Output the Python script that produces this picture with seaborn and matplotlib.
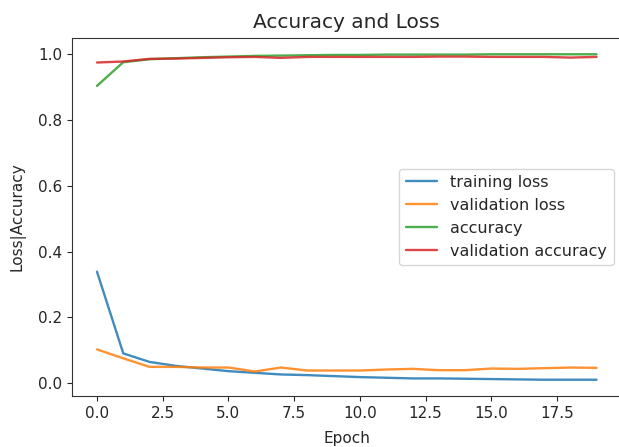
import numpy as np
import pandas as pd
import matplotlib
matplotlib.use("Agg")
import matplotlib.pyplot as plt
import seaborn as sns

# values
epochs = list(range(20))
training_loss = [0.339, 0.091, 0.065, 0.053, 0.045, 0.037, 0.032, 0.027, 0.025, 0.022,
                 0.019, 0.017, 0.015, 0.015, 0.014, 0.013, 0.012, 0.011, 0.011, 0.011]
validation_loss = [0.103, 0.076, 0.050, 0.050, 0.048, 0.048, 0.036, 0.048, 0.039, 0.039,
                   0.039, 0.042, 0.044, 0.040, 0.040, 0.045, 0.044, 0.046, 0.048, 0.047]
accuracy = [0.903, 0.975, 0.984, 0.987, 0.990, 0.992, 0.994, 0.995, 0.996, 0.997,
            0.997, 0.998, 0.998, 0.998, 0.998, 0.999, 0.999, 0.999, 0.999, 0.999]
validation_accuracy = [0.974, 0.977, 0.985, 0.986, 0.988, 0.990, 0.991, 0.988, 0.991, 0.991,
                       0.991, 0.991, 0.991, 0.992, 0.992, 0.991, 0.991, 0.991, 0.989, 0.991]
series_names = ["training loss", "validation loss", "accuracy", "validation accuracy"]

df = pd.DataFrame({
    "Epoch": epochs * 4,
    "value": training_loss + validation_loss + accuracy + validation_accuracy,
    "series": np.repeat(series_names, len(epochs)),
})

sns.set_style("ticks")
plt.rcParams["font.family"] = ["DejaVu Sans"]
plt.rcParams["axes.edgecolor"] = "#333333"

fig = plt.figure(figsize=(6.19, 4.47), dpi=100)
ax = fig.add_axes([72 / 619, 51 / 447, 549.5 / 619, 358 / 447])

sns.lineplot(data=df, x="Epoch", y="value", hue="series", hue_order=series_names,
             palette=sns.color_palette("tab10", 4), linewidth=1.7, alpha=0.85, ax=ax)

ax.set_title("Accuracy and Loss", fontsize=14.5, pad=7)
ax.set_xlabel("Epoch", fontsize=11, labelpad=7.5)
ax.set_ylabel("Loss|Accuracy", fontsize=11, labelpad=9)
ax.tick_params(labelsize=11)
# right edge is cut off in the reference
sns.despine(ax=ax, top=False, right=True)
ax.legend(loc="center right", fontsize=11.5)

fig.savefig("out.png", dpi=100)
